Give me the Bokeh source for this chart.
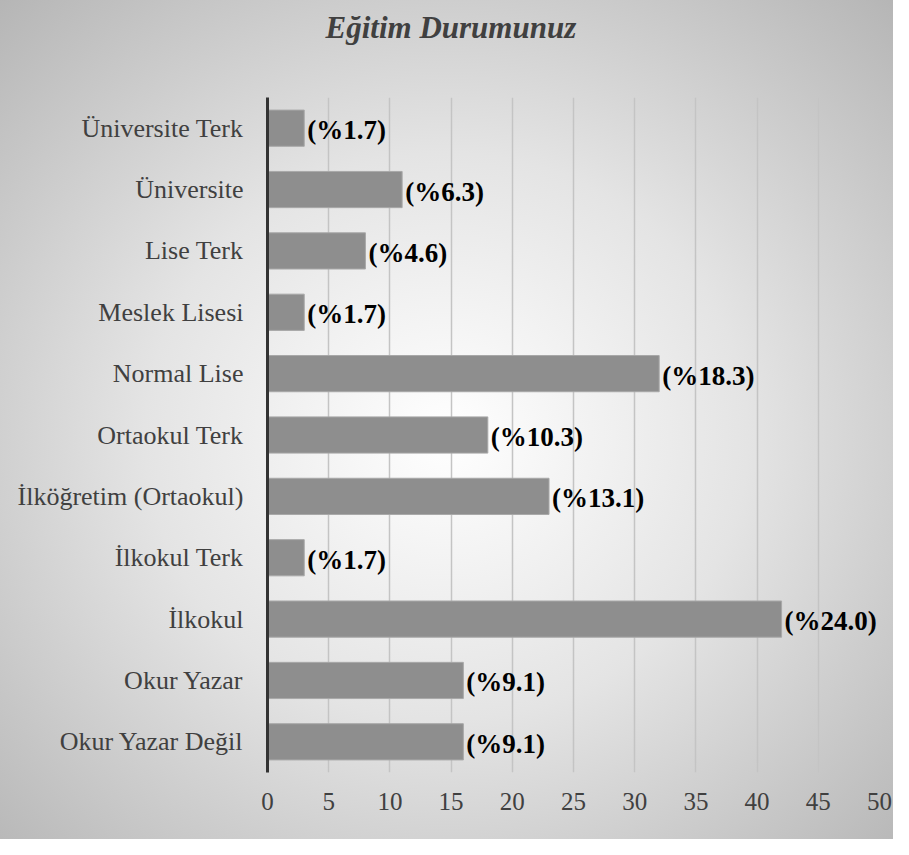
from bokeh.plotting import figure
from bokeh.models import ColumnDataSource, FactorRange, Range1d, FixedTicker, Title
from bokeh.embed import file_html
from bokeh.resources import INLINE
from bokeh.core.properties import value

title_text = "Eğitim Durumunuz"
categories = ["Üniversite Terk", "Üniversite", "Lise Terk", "Meslek Lisesi", "Normal Lise",
              "Ortaokul Terk", "İlköğretim (Ortaokul)", "İlkokul Terk", "İlkokul",
              "Okur Yazar", "Okur Yazar Değil"]
counts = [3, 11, 8, 3, 32, 18, 23, 3, 42, 16, 16]
percent_labels = ["(%1.7)", "(%6.3)", "(%4.6)", "(%1.7)", "(%18.3)", "(%10.3)",
                  "(%13.1)", "(%1.7)", "(%24.0)", "(%9.1)", "(%9.1)"]
x_ticks = [0, 5, 10, 15, 20, 25, 30, 35, 40, 45, 50]

FONT = "Liberation Serif"

src = ColumnDataSource(dict(cat=categories, val=counts, lab=percent_labels))

p = figure(width=893, height=839, output_backend="svg", toolbar_location=None,
           y_range=FactorRange(factors=list(reversed(categories))),
           x_range=Range1d(0, 50),
           min_border_left=267, min_border_right=14, min_border_top=97, min_border_bottom=67)
p.styles = {"background": "radial-gradient(ellipse 75% 75% at 50% 52%, #ffffff 0%, #e4e4e4 45%, #b2b2b2 100%)"}
p.border_fill_color = None
p.background_fill_color = None
p.outline_line_color = None

p.title.text = title_text
p.title.align = "left"
p.title.offset = 58
p.title.standoff = 10
p.title.text_font = FONT
p.title.text_font_style = "bold italic"
p.title.text_font_size = "31px"
p.title.text_color = "#404040"

# empty spacer between title and plot area
p.add_layout(Title(text=" ", text_font_size="10px", standoff=35), "above")

p.hbar(y="cat", right="val", left=0, height=0.59, source=src,
       fill_color="#8e8e8e", line_color="#a8a8a8", line_width=1)

p.text(x="val", y="cat", text="lab", source=src, x_offset=3, y_offset=2,
       text_font=value(FONT), text_font_style="bold", text_font_size="27px",
       text_color="#000000", text_baseline="middle", text_align="left")

# axes
xa = p.xaxis[0]
xa.ticker = FixedTicker(ticks=x_ticks)
xa.axis_line_color = None
xa.major_tick_line_color = None
xa.minor_tick_line_color = None
xa.major_label_text_font = FONT
xa.major_label_text_font_size = "25px"
xa.major_label_text_color = "#404040"
xa.major_label_standoff = 14

ya = p.yaxis[0]
ya.axis_line_color = "#333333"
ya.axis_line_width = 3
ya.major_tick_line_color = None
ya.minor_tick_line_color = None
ya.major_label_text_font = FONT
ya.major_label_text_font_size = "26px"
ya.major_label_text_color = "#404040"
ya.major_label_standoff = 18

p.xgrid.grid_line_color = "#c4c4c4"
p.xgrid.grid_line_width = 1.5
p.ygrid.grid_line_color = None

open("out.html", "w").write(file_html(p, INLINE))
